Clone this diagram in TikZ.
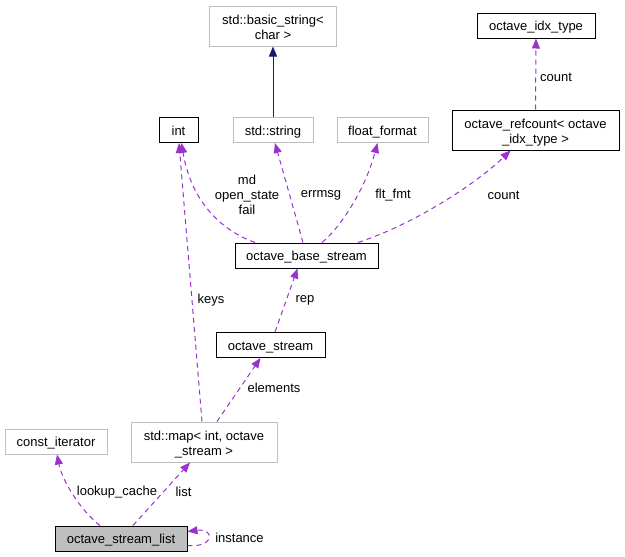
\documentclass[tikz,border=0pt]{standalone}
\usepackage{fontspec}
\setmainfont{Liberation Sans}
\usetikzlibrary{arrows.meta}
\definecolor{edgepurple}{RGB}{154,50,205}
\definecolor{edgenavy}{RGB}{25,25,112}
\definecolor{boxgray}{RGB}{191,191,191}

\begin{document}
\begin{tikzpicture}[x=1pt, y=-1pt,
		font=\fontsize{13}{15}\selectfont,
		box/.style={draw=black, line width=1pt, inner sep=0pt, align=center},
		cls/.style={box, minimum height=25pt, text height=13pt, text depth=2.2pt},
		ext/.style={cls, draw=boxgray},
		clstwo/.style={box, minimum height=40pt, text height=29pt, text depth=2.2pt},
		exttwo/.style={clstwo, draw=boxgray},
		usage/.style={edgepurple, line width=1pt, dash pattern=on 5pt off 4pt, -{Triangle[length=10pt,width=8pt]}},
		inherit/.style={edgenavy, line width=1pt, -{Triangle[length=10pt,width=8pt]}}]
			\useasboundingbox (0,0) rectangle (625,557);
			% Nodes
			\node[exttwo, minimum width=127pt] (basicstr) at (273,26) {std::basic\_string<\\char >};
			\node[cls, minimum width=118pt] (idxtype) at (536,25.5) {octave\_idx\_type};
			\node[cls, minimum width=39pt] (int) at (178.5,130) {int};
			\node[ext, minimum width=80pt] (stdstr) at (273,130) {std::string};
			\node[ext, minimum width=91pt] (fltfmt) at (382.5,130) {float\_format};
			\node[clstwo, minimum width=167pt] (refcnt) at (535.5,130) {octave\_refcount< octave\\\_idx\_type >};
			\node[cls, minimum width=143pt] (base) at (306.5,255.5) {octave\_base\_stream};
			\node[cls, minimum width=109pt] (ostream) at (270.5,345) {octave\_stream};
			\node[ext, minimum width=102pt] (constit) at (56,441.5) {const\_iterator};
			\node[exttwo, minimum width=146pt] (stdmap) at (204,442) {std::map< int, octave\\\_stream >};
			\node[cls, fill=boxgray, minimum width=132pt] (slist) at (121,538.5) {octave\_stream\_list};
			% Labels
			\node (lcount) at (556,77) {count};
			\node[align=center] (lmd) at (247,195) {md\\open\_state\\fail};
			\node (lerrmsg) at (321,195) {errmsg};
			\node (lfltfmt) at (393,195) {flt\_fmt};
			\node (lcountb) at (503.5,195) {count};
			\node (lkeys) at (211,300) {keys};
			\node (lrep) at (305,300) {rep};
			\node (lelements) at (274,388) {elements};
			\node (llookup) at (117,492) {lookup\_cache};
			\node (llist) at (183.5,492) {list};
			\node (linstance) at (239.5,538) {instance};
			% Edges
			\draw[inherit] (stdstr.north) -- (basicstr.south);
			\draw[usage] (refcnt.north) -- (idxtype.south);
			\draw[usage] ([xshift=-51.5pt]base.north) .. controls (215,228) and (190,195) .. ([xshift=3pt]int.south);
			\draw[usage] ([xshift=-2pt]stdmap.north) -- ([xshift=0.5pt]int.south);
			\draw[usage] ([xshift=-3.5pt]base.north) -- ([xshift=2pt]stdstr.south);
			\draw[usage] ([xshift=15.5pt]base.north) .. controls (340,228) and (365,190) .. ([xshift=-5pt]fltfmt.south);
			\draw[usage] ([xshift=51.5pt]base.north) .. controls (420,222) and (480,180) .. ([xshift=-25pt]refcnt.south);
			\draw[usage] ([xshift=4.5pt]ostream.north) -- ([xshift=-9pt]base.south);
			\draw[usage] ([xshift=13pt]stdmap.north) -- ([xshift=-10pt]ostream.south);
			\draw[usage] ([xshift=-21pt]slist.north) .. controls (80,510) and (62,480) .. ([xshift=1pt]constit.south);
			\draw[usage] ([xshift=12pt]slist.north) -- ([xshift=-14pt]stdmap.south);
			\draw[usage] ([yshift=-7pt]slist.east) .. controls (215,548) and (215,528) .. ([yshift=7pt]slist.east);
		\end{tikzpicture}
\end{document}
